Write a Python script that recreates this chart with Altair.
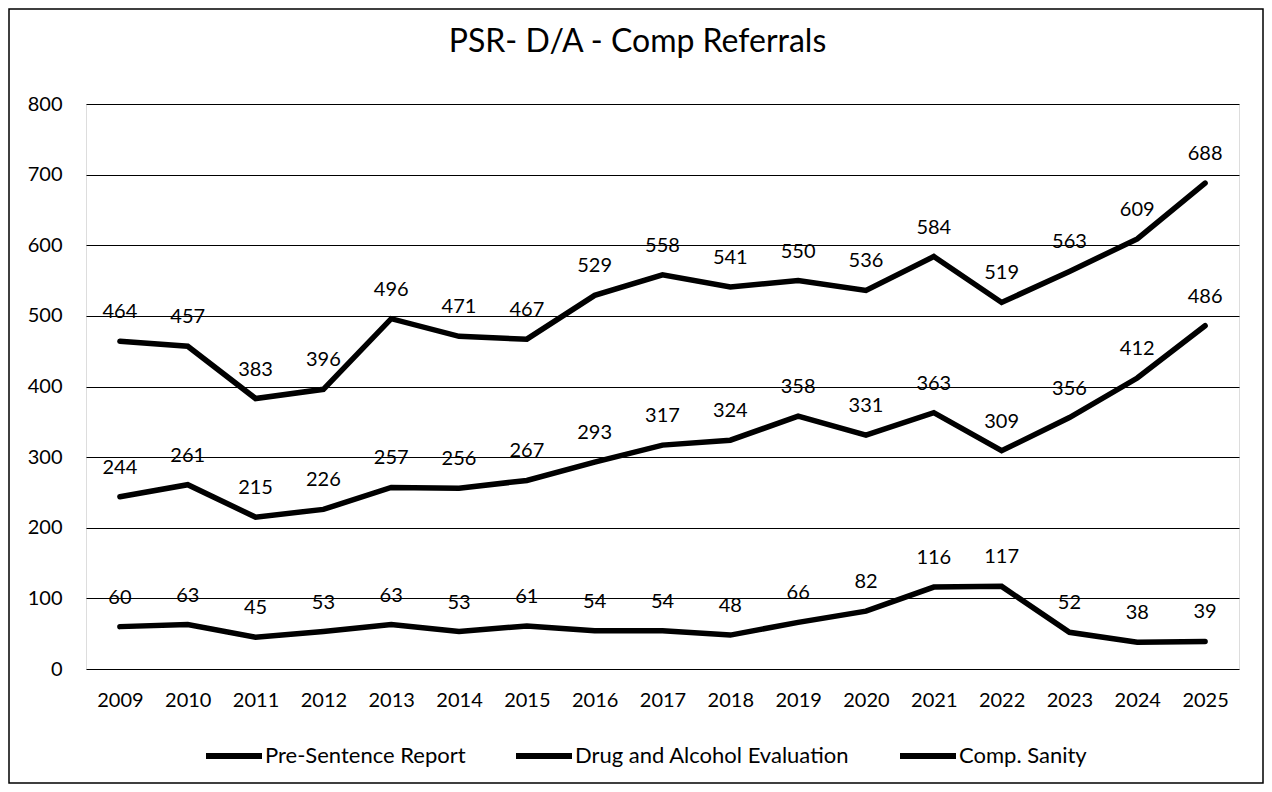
import altair as alt
import pandas as pd

years = [str(y) for y in range(2009, 2026)]
series_names = ["Pre-Sentence Report", "Drug and Alcohol Evaluation", "Comp. Sanity"]
psr = [464, 457, 383, 396, 496, 471, 467, 529, 558, 541, 550, 536, 584, 519, 563, 609, 688]
dae = [244, 261, 215, 226, 257, 256, 267, 293, 317, 324, 358, 331, 363, 309, 356, 412, 486]
comp = [60, 63, 45, 53, 63, 53, 61, 54, 54, 48, 66, 82, 116, 117, 52, 38, 39]
y_ticks = [0, 100, 200, 300, 400, 500, 600, 700, 800]

rows = []
for name, vals in zip(series_names, [psr, dae, comp]):
    for yr, v in zip(years, vals):
        rows.append({"Year": yr, "Series": name, "Value": v})
df = pd.DataFrame(rows)

FONT = "Lato"

x_enc = alt.X("Year:N", sort=years, title=None,
              scale=alt.Scale(paddingOuter=0.5),
              axis=alt.Axis(labelAngle=0, labelFontSize=20, labelPadding=21,
                            ticks=False, domain=False, grid=False,
                            labelColor="black", labelFont=FONT))
y_enc = alt.Y("Value:Q", title=None,
              scale=alt.Scale(domain=[0, 800], nice=False),
              axis=alt.Axis(values=y_ticks, labelFontSize=20, labelPadding=24,
                            ticks=False, domain=False, grid=True,
                            gridColor="black", gridWidth=1.2,
                            labelColor="black", labelFont=FONT))

base = alt.Chart(df)

lines = base.mark_line(strokeWidth=5.5, strokeCap="round", strokeJoin="miter").encode(
    x=x_enc, y=y_enc,
    color=alt.Color("Series:N", sort=series_names,
                    scale=alt.Scale(domain=series_names, range=["black", "black", "black"]),
                    legend=alt.Legend(title=None, orient="none", direction="horizontal",
                                      legendX=117, legendY=621,
                                      symbolType="stroke", symbolStrokeWidth=6,
                                      symbolSize=3136, labelFontSize=22,
                                      labelFont=FONT, labelColor="black",
                                      labelOffset=0, columnPadding=38,
                                      labelLimit=400)),
    detail="Series:N",
)

labels = base.mark_text(fontSize=20, font=FONT, color="black", baseline="middle",
                        dy=-29).encode(
    x=alt.X("Year:N", sort=years),
    y=alt.Y("Value:Q"),
    text=alt.Text("Value:Q"),
)

frame = alt.Chart(pd.DataFrame({"a": [0]})).mark_rect(
    fill=None, stroke="black", strokeWidth=1.5).encode(
    x=alt.value(-77), x2=alt.value(1177), y=alt.value(-95), y2=alt.value(679))

chart = alt.layer(frame, lines, labels).properties(
    width=1153, height=565,
    title=alt.Title("PSR- D/A - Comp Referrals", fontSize=32, font=FONT,
                    fontWeight="normal", color="black", offset=-51, dx=-25),
    autosize=alt.AutoSizeParams(type="none"),
    padding={"left": 78, "top": 96, "right": 25, "bottom": 115},
).configure_view(stroke=None).configure(background="white")

chart.save("out.html", embed_options={"renderer": "svg", "actions": False})
